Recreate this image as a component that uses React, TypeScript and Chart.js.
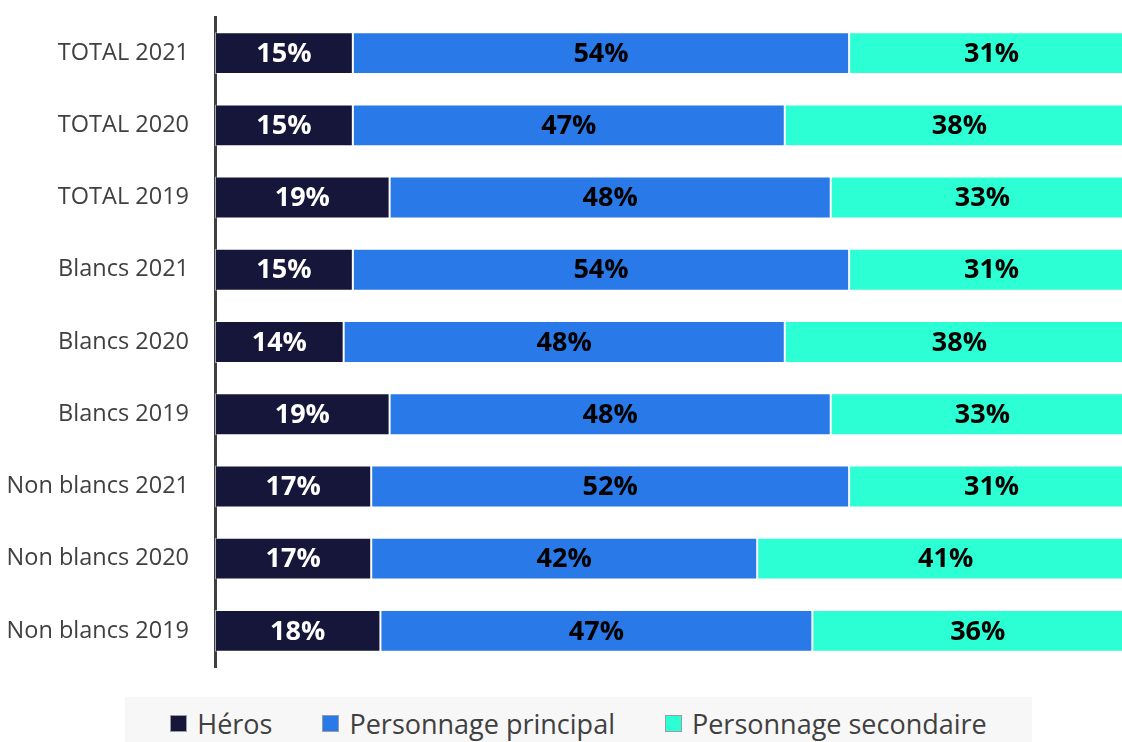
import React, { useEffect, useRef } from "react";
import { Chart, registerables } from "chart.js";

Chart.register(...registerables);

const categories = [
  "TOTAL 2021",
  "TOTAL 2020",
  "TOTAL 2019",
  "Blancs 2021",
  "Blancs 2020",
  "Blancs 2019",
  "Non blancs 2021",
  "Non blancs 2020",
  "Non blancs 2019",
];

const seriesNames = ["Héros", "Personnage principal", "Personnage secondaire"];
const heros = [15, 15, 19, 15, 14, 19, 17, 17, 18];
const principal = [54, 47, 48, 54, 48, 48, 52, 42, 47];
const secondaire = [31, 38, 33, 31, 38, 33, 31, 41, 36];
const seriesColors = ["#16163a", "#2979e8", "#2cffd4"];
const labelColors = ["#ffffff", "#000000", "#000000"];

const FONT = "'Open Sans', 'Noto Sans', sans-serif";

const valueLabels = {
  id: "valueLabels",
  afterDatasetsDraw(chart: any) {
    const ctx = chart.ctx;
    ctx.save();
    ctx.font = `bold 27px ${FONT}`;
    ctx.textAlign = "center";
    ctx.textBaseline = "middle";
    chart.data.datasets.forEach((ds: any, di: number) => {
      const meta = chart.getDatasetMeta(di);
      meta.data.forEach((el: any, i: number) => {
        const v = ds.data[i];
        const cx = (el.x + el.base) / 2;
        ctx.fillStyle = labelColors[di];
        ctx.fillText(`${v}%`, cx, el.y + 1);
      });
    });
    ctx.restore();
  },
};

export default function App() {
  const ref = useRef<HTMLCanvasElement>(null);

  useEffect(() => {
    const data = [heros, principal, secondaire];
    const chart = new Chart(ref.current!, {
      type: "bar",
      data: {
        labels: categories,
        datasets: seriesNames.map((name, i) => ({
          label: name,
          data: data[i],
          backgroundColor: seriesColors[i],
          borderColor: "rgba(255,255,255,0.55)",
          borderWidth: 1,
          borderSkipped: false,
          barPercentage: 0.58,
          categoryPercentage: 1,
        })),
      },
      options: {
        indexAxis: "y",
        responsive: false,
        animation: false,
        layout: { padding: { top: 17, bottom: 75, right: 6, left: 0 } },
        plugins: {
          legend: { display: false },
          tooltip: { enabled: false },
        },
        scales: {
          x: {
            stacked: true,
            min: 0,
            max: 100,
            display: false,
          },
          y: {
            stacked: true,
            grid: { display: false, drawTicks: false },
            border: { display: true, color: "#404040", width: 3 },
            ticks: {
              color: "#404040",
              padding: 26,
              font: { family: FONT, size: 23.5 },
            },
            afterFit(scale: any) {
              scale.width = 215;
              scale.paddingTop = 0;
              scale.paddingBottom = 0;
            },
          },
        },
      },
      plugins: [valueLabels],
    });
    return () => chart.destroy();
  }, []);

  return (
    <div
      style={{
        position: "fixed",
        left: 0,
        top: 0,
        width: 1122,
        height: 742,
        overflow: "hidden",
        background: "#ffffff",
      }}
    >
      <canvas
        ref={ref}
        width={1140}
        height={742}
        style={{ position: "absolute", left: 0, top: 0, width: 1140, height: 742 }}
      />
      <div
        style={{
          position: "absolute",
          left: 125,
          top: 697,
          width: 907,
          height: 60,
          background: "#f7f7f7",
        }}
      >
        <div
          style={{
            position: "absolute",
            left: 0,
            right: 0,
            top: 0,
            height: 52,
            display: "flex",
            alignItems: "center",
            justifyContent: "center",
            gap: 50,
            fontFamily: FONT,
            fontSize: 27,
            color: "#404040",
          }}
        >
          {seriesNames.map((name, i) => (
            <div key={name} style={{ display: "flex", alignItems: "center", gap: 10 }}>
              <span
                style={{
                  display: "inline-block",
                  width: 15,
                  height: 15,
                  background: seriesColors[i],
                  border: "1px solid #9a9aa8",
                }}
              />
              <span>{name}</span>
            </div>
          ))}
        </div>
      </div>
    </div>
  );
}
